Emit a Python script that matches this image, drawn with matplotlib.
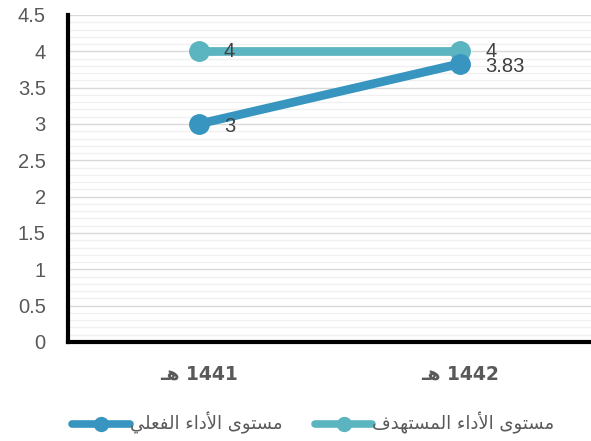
import numpy as np
import matplotlib
matplotlib.use('Agg')
import matplotlib.pyplot as plt
from matplotlib.ticker import MultipleLocator

# data
years = ['1441 هـ', '1442 هـ']
target = [4, 4]
actual = [3, 3.83]
target_label = 'مستوى الأداء المستهدف'
actual_label = 'مستوى الأداء الفعلي'

# minimal arabic shaping (isolated, final, initial, medial) since matplotlib has no text layout
FORMS = {
    'ء': ('\uFE80', None, None, None),
    'أ': ('\uFE83', '\uFE84', None, None),
    'ا': ('\uFE8D', '\uFE8E', None, None),
    'ت': ('\uFE95', '\uFE96', '\uFE97', '\uFE98'),
    'د': ('\uFEA9', '\uFEAA', None, None),
    'س': ('\uFEB1', '\uFEB2', '\uFEB3', '\uFEB4'),
    'ع': ('\uFEC9', '\uFECA', '\uFECB', '\uFECC'),
    'ف': ('\uFED1', '\uFED2', '\uFED3', '\uFED4'),
    'ل': ('\uFEDD', '\uFEDE', '\uFEDF', '\uFEE0'),
    'م': ('\uFEE1', '\uFEE2', '\uFEE3', '\uFEE4'),
    'ه': ('\uFEE9', '\uFEEA', '\uFEEB', '\uFEEC'),
    'و': ('\uFEED', '\uFEEE', None, None),
    'ى': ('\uFEEF', '\uFEF0', None, None),
    'ي': ('\uFEF1', '\uFEF2', '\uFEF3', '\uFEF4'),
    'لأ': ('\uFEF7', '\uFEF8', None, None),
    'ـ': ('\u0640', '\u0640', '\u0640', '\u0640'),
}

def shape(text):
    chars = []
    i = 0
    while i < len(text):
        if text[i] == 'ل' and i + 1 < len(text) and text[i + 1] == 'أ':
            chars.append('لأ'); i += 2
        else:
            chars.append(text[i]); i += 1
    def joins_left(c):
        return c in FORMS and FORMS[c][2] is not None
    out = []
    for k, c in enumerate(chars):
        if c not in FORMS:
            out.append(c); continue
        prev_j = k > 0 and joins_left(chars[k - 1])
        next_j = k + 1 < len(chars) and chars[k + 1] in FORMS and joins_left(c)
        iso, fin, ini, med = FORMS[c]
        if prev_j and next_j and med: out.append(med)
        elif prev_j and fin: out.append(fin)
        elif next_j and ini: out.append(ini)
        else: out.append(iso)
    return out

def rtl(text):
    # split into arabic / non-arabic runs, reverse for visual order
    parts = text.split(' ')
    vis = []
    for p in reversed(parts):
        if any(ch in FORMS or ch == 'ـ' for ch in p):
            vis.append(''.join(reversed(shape(p))))
        else:
            vis.append(p)
    return ' '.join(vis)

teal = '#5BB5C0'
blue = '#3795BF'
grey = '#595959'

fig = plt.figure(figsize=(5.91, 4.41), dpi=100)
ax = fig.add_axes([0.115, 0.2245, 0.885, 0.7415])

x = np.arange(len(years))
ax.plot(x, target, color=teal, lw=6.3, marker='o', ms=14, solid_capstyle='round',
        label=rtl(target_label), zorder=3)
ax.plot(x, actual, color=blue, lw=6.3, marker='o', ms=14, solid_capstyle='round',
        label=rtl(actual_label), zorder=4)

for xi, v in zip(x, target):
    ax.annotate('{:g}'.format(v), (xi, v), xytext=(18, 0), textcoords='offset points',
                va='center', ha='left', fontsize=14.5, color='#404040', zorder=5,
                family='Liberation Sans')
for xi, v in zip(x, actual):
    ax.annotate('{:g}'.format(v), (xi, v), xytext=(18, -2), textcoords='offset points',
                va='center', ha='left', fontsize=14.5, color='#404040', zorder=5,
                family='Liberation Sans')

ax.set_xlim(-0.5, 1.5)
ax.set_ylim(0, 4.5)
ax.yaxis.set_major_locator(MultipleLocator(0.5))
ax.yaxis.set_minor_locator(MultipleLocator(0.1))
ax.grid(axis='y', which='major', color='#D9D9D9', lw=1, zorder=0)
ax.grid(axis='y', which='minor', color='#F0F0F0', lw=1, zorder=0)
ax.set_axisbelow(True)

ax.set_xticks(x)
ax.set_xticklabels([rtl(y) for y in years], fontweight='bold', fontsize=13.5,
                   color=grey, family='DejaVu Sans')
ax.set_yticks(np.arange(0, 4.51, 0.5))
ax.set_yticklabels(['{:g}'.format(v) for v in np.arange(0, 4.51, 0.5)],
                   fontsize=14.5, color=grey, family='Liberation Sans')
ax.tick_params(axis='both', which='both', length=0)
ax.tick_params(axis='y', pad=16)
ax.tick_params(axis='x', pad=16)

for s in ['top', 'right']:
    ax.spines[s].set_visible(False)
for s in ['left', 'bottom']:
    ax.spines[s].set_linewidth(3)
    ax.spines[s].set_color('black')

h, l = ax.get_legend_handles_labels()
leg = fig.legend(h[::-1], l[::-1], loc='center', bbox_to_anchor=(0.53, 0.04), ncol=2,
                 frameon=False, handlelength=3.2, columnspacing=1.8, handletextpad=0.0,
                 prop={'family': 'DejaVu Sans', 'size': 13})
for t in leg.get_texts():
    t.set_color(grey)
for lh in leg.get_lines():
    lh.set_markersize(10)
    lh.set_linewidth(5.5)

fig.savefig('out.png', dpi=100)
